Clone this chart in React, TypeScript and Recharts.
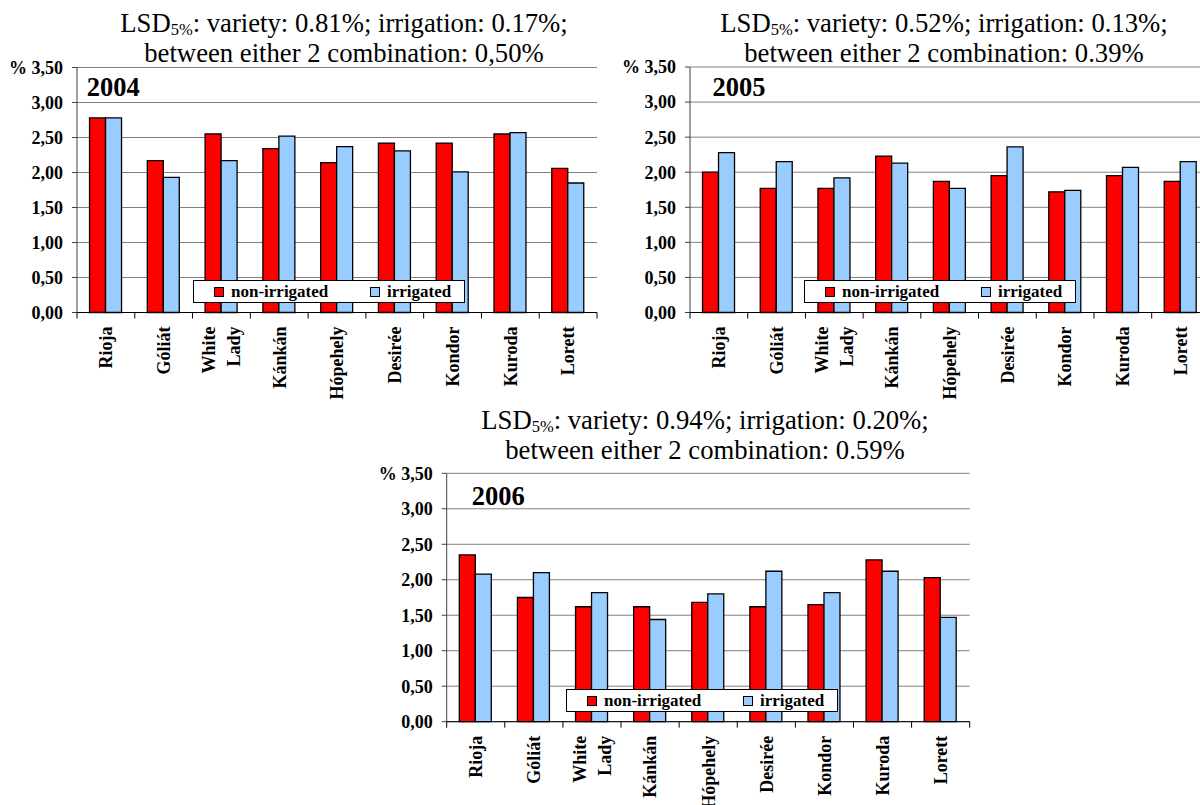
import { BarChart, Bar, XAxis, YAxis, CartesianGrid, Legend } from 'recharts';

const FONT = "'Liberation Serif', 'Times New Roman', 'DejaVu Serif', serif";

const varieties = ['Rioja', 'Góliát', 'White Lady', 'Kánkán', 'Hópehely', 'Desirée', 'Kondor', 'Kuroda', 'Lorett'];
const yTicks = [0, 0.5, 1, 1.5, 2, 2.5, 3, 3.5];

const nonIrr2004 = [2.78, 2.17, 2.55, 2.34, 2.14, 2.42, 2.42, 2.55, 2.06];
const irr2004 = [2.78, 1.93, 2.17, 2.52, 2.37, 2.31, 2.01, 2.57, 1.85];

const nonIrr2005 = [2.0, 1.77, 1.77, 2.23, 1.87, 1.95, 1.72, 1.95, 1.87];
const irr2005 = [2.28, 2.15, 1.92, 2.13, 1.77, 2.36, 1.74, 2.07, 2.15];

const nonIrr2006 = [2.35, 1.75, 1.62, 1.62, 1.68, 1.62, 1.65, 2.28, 2.03];
const irr2006 = [2.08, 2.1, 1.82, 1.44, 1.8, 2.12, 1.82, 2.12, 1.47];

const years = ['2004', '2005', '2006'];
const lsdVariety = ['0.81%', '0.52%', '0.94%'];
const lsdIrrigation = ['0.17%', '0.13%', '0.20%'];
const lsdCombination = ['0,50%', '0.39%', '0.59%'];
const seriesNames = ['non-irrigated', 'irrigated'];

const makeRows = (a: number[], b: number[]) =>
  varieties.map((name, i) => ({ name, nonIrr: a[i], irr: b[i] }));

const fmtY = (v: number) => (v === 3.5 ? '% ' : '') + v.toFixed(2).replace('.', ',');

function CatTick(props: any) {
  const { x, y, payload, index, count } = props;
  const half = payload?.offset ?? 29;
  const lines = String(payload.value) === 'White Lady' ? ['White', 'Lady'] : [String(payload.value)];
  const ay = y + 14;
  return (
    <g>
      <line x1={x - half} y1={y} x2={x - half} y2={y + 6} stroke="#000" />
      {index === count - 1 && <line x1={x + half} y1={y} x2={x + half} y2={y + 6} stroke="#000" />}
      <text
        x={x}
        y={ay}
        transform={`rotate(-90 ${x} ${ay})`}
        textAnchor="end"
        fontFamily={FONT}
        fontWeight="bold"
        fontSize={18}
        fill="#000"
      >
        {lines.map((l, i) => (
          <tspan key={l} x={x} dy={lines.length === 1 ? '0.35em' : i === 0 ? -6.2 : 25}>
            {l}
          </tspan>
        ))}
      </text>
    </g>
  );
}

function LegendBox({ payload }: any) {
  const items = [...(payload || [])].sort(
    (a: any, b: any) => seriesNames.indexOf(a.value) - seriesNames.indexOf(b.value)
  );
  const pos = [20, 176];
  return (
    <div
      style={{
        position: 'relative',
        width: 270,
        height: 21,
        border: '1px solid #000',
        background: '#fff',
        fontFamily: FONT,
        fontWeight: 'bold',
        fontSize: 17,
        color: '#000',
        whiteSpace: 'nowrap',
      }}
    >
      {items.map((it: any, i: number) => (
        <div key={it.value} style={{ position: 'absolute', left: pos[i], top: 0, height: 21, display: 'flex', alignItems: 'center' }}>
          <span style={{ display: 'inline-block', width: 8, height: 8, border: '1px solid #000', background: it.color, marginRight: 7 }} />
          <span style={{ lineHeight: '21px' }}>{it.value}</span>
        </div>
      ))}
    </div>
  );
}

type Layout = {
  left: number; top: number; w: number; h: number;
  mTop: number; mRight: number; yw: number; xh: number;
  legLeft: number; legTop: number;
};

function YearChart({ rows, lay }: { rows: any[]; lay: Layout }) {
  return (
    <div style={{ position: 'absolute', left: lay.left, top: lay.top, width: lay.w, height: lay.h }}>
      <BarChart
        width={lay.w}
        height={lay.h}
        data={rows}
        margin={{ top: lay.mTop, right: lay.mRight, left: 0, bottom: 0 }}
        barCategoryGap="21.7%"
        barGap={0}
      >
        <CartesianGrid vertical={false} stroke="#808080" strokeWidth={1} yAxisId="l" />
        <XAxis
          dataKey="name"
          height={lay.xh}
          interval={0}
          tickLine={false}
          tickSize={0}
          tickMargin={0}
          axisLine={{ stroke: '#000' }}
          tick={(p: any) => <CatTick {...p} count={rows.length} />}
        />
        <YAxis
          yAxisId="l"
          width={lay.yw}
          domain={[0, 3.5]}
          ticks={yTicks}
          tickFormatter={fmtY}
          tickSize={5}
          tickMargin={9}
          axisLine={{ stroke: '#404040' }}
          tickLine={{ stroke: '#404040' }}
          tick={{ fill: '#000', fontFamily: FONT, fontWeight: 'bold', fontSize: 18 }}
          interval={0}
        />
        <YAxis yAxisId="r" orientation="right" width={0} domain={[0, 3.5]} tick={false} tickLine={false} axisLine={{ stroke: '#808080' }} />
        <Legend
          verticalAlign="middle"
          align="center"
          content={<LegendBox />}
          wrapperStyle={{ left: lay.legLeft, top: lay.legTop, width: 272, height: 23 }}
        />
        <Bar yAxisId="l" dataKey="nonIrr" name={seriesNames[0]} fill="#FF0000" stroke="#000" strokeWidth={1.3} isAnimationActive={false} />
        <Bar yAxisId="l" dataKey="irr" name={seriesNames[1]} fill="#99CCFF" stroke="#000" strokeWidth={1.3} isAnimationActive={false} />
      </BarChart>
    </div>
  );
}

function Title({ idx, cx, top }: { idx: number; cx: number; top: number }) {
  return (
    <div
      style={{
        position: 'absolute',
        left: cx - 300,
        top,
        width: 600,
        textAlign: 'center',
        fontFamily: FONT,
        fontSize: 26.7,
        lineHeight: '30px',
        color: '#000',
        whiteSpace: 'nowrap',
      }}
    >
      LSD<sub style={{ fontSize: 16.5, lineHeight: 0, verticalAlign: '-0.2em' }}>5%</sub>: variety: {lsdVariety[idx]}; irrigation: {lsdIrrigation[idx]};
      <br />
      between either 2 combination: {lsdCombination[idx]}
    </div>
  );
}

function Year({ text, left, top }: { text: string; left: number; top: number }) {
  return (
    <div style={{ position: 'absolute', left, top, fontFamily: FONT, fontWeight: 'bold', fontSize: 26.5, lineHeight: '30px', color: '#000' }}>
      {text}
    </div>
  );
}

const layouts: Layout[] = [
  { left: 0, top: 0, w: 620, h: 420, mTop: 67.5, mRight: 23, yw: 77, xh: 107.5, legLeft: 193, legTop: 280 },
  { left: 600, top: 0, w: 640, h: 420, mTop: 67, mRight: 30.6, yw: 90, xh: 107.5, legLeft: 204, legTop: 280 },
  { left: 360, top: 400, w: 640, h: 420, mTop: 73.3, mRight: 30.3, yw: 86.7, xh: 98.3, legLeft: 206, legTop: 289 },
];

export default function App() {
  const all = [makeRows(nonIrr2004, irr2004), makeRows(nonIrr2005, irr2005), makeRows(nonIrr2006, irr2006)];
  return (
    <div style={{ position: 'absolute', left: 0, top: 0, width: 1200, height: 805, overflow: 'hidden', background: '#fff' }}>
      {all.map((rows, i) => (
        <YearChart key={years[i]} rows={rows} lay={layouts[i]} />
      ))}
      <Title idx={0} cx={344} top={8} />
      <Title idx={1} cx={944} top={8} />
      <Title idx={2} cx={705} top={404.5} />
      <Year text={years[0]} left={86.7} top={72} />
      <Year text={years[1]} left={712.6} top={72} />
      <Year text={years[2]} left={471.7} top={481} />
    </div>
  );
}
